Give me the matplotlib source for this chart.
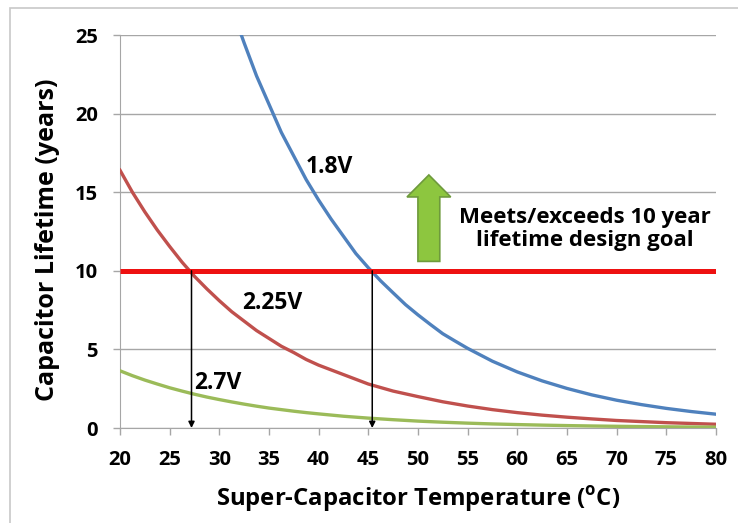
import matplotlib.pyplot as plt
from matplotlib.patches import FancyArrow, Rectangle

plt.rcParams['font.family'] = ['Open Sans', 'DejaVu Sans']
plt.rcParams['font.weight'] = 'bold'
plt.rcParams['axes.labelweight'] = 'bold'

# temperatures (deg C) and lifetime readings (years) for each voltage
temp_18 = [30, 31.25, 32.5, 33.75, 35, 36.25, 37.5, 38.75, 40, 41.25, 42.5,
           43.75, 45, 46.25, 47.5, 48.75, 50, 51.25, 52.5, 53.75, 55, 57.5, 60,
           62.5, 65, 67.5, 70, 72.5, 75, 77.5, 80]
life_18 = [29.2, 26.7, 24.5, 22.4, 20.6, 18.8, 17.3, 15.8, 14.5, 13.3, 12.2,
           11.1, 10.2, 9.36, 8.6, 7.85, 7.2, 6.59, 6.0, 5.53, 5.07, 4.25, 3.57,
           3.0, 2.52, 2.11, 1.77, 1.49, 1.25, 1.05, 0.88]

temp_low = [20, 21.25, 22.5, 23.75, 25, 26.25, 27.5, 28.75, 30, 31.25, 32.5,
            33.75, 35, 36.25, 37.5, 38.75, 40, 42.5, 45, 47.5, 50, 52.5, 55,
            57.5, 60, 62.5, 65, 67.5, 70, 72.5, 75, 77.5, 80]
life_225 = [16.4, 15.0, 13.75, 12.6, 11.55, 10.55, 9.65, 8.85, 8.1, 7.4, 6.8,
            6.2, 5.7, 5.2, 4.8, 4.36, 4.0, 3.4, 2.8, 2.35, 2.0, 1.67, 1.4, 1.17,
            0.98, 0.82, 0.69, 0.58, 0.48, 0.41, 0.34, 0.29, 0.24]
life_27 = [3.64, 3.33, 3.05, 2.8, 2.56, 2.35, 2.15, 1.97, 1.81, 1.66, 1.52,
           1.39, 1.27, 1.17, 1.07, 0.98, 0.90, 0.75, 0.63, 0.53, 0.44, 0.37,
           0.31, 0.26, 0.22, 0.185, 0.155, 0.13, 0.11, 0.092, 0.077, 0.065,
           0.055]

goal_years = 10
crossings = [27.2, 45.4]   # where 2.25V and 1.8V hit the goal

fig = plt.figure(figsize=(7.38, 5.23), dpi=100)
ax = fig.add_axes([0.1626, 0.1816, 0.8074, 0.7514])

# light frame around the chart (top and left visible)
fig.patches.append(Rectangle((10 / 738, -0.1), 1.2, 1.1 - 8 / 523,
                             transform=fig.transFigure, fill=False,
                             edgecolor='#c8c8c8', linewidth=1.2))

ax.plot(temp_18, life_18, color='#4f81bd', linewidth=2.4, zorder=3)
ax.plot(temp_low, life_225, color='#c0504d', linewidth=2.4, zorder=3)
ax.plot(temp_low, life_27, color='#9bbb59', linewidth=2.4, zorder=3)

ax.plot([20, 80], [goal_years, goal_years], color='#ee1111', linewidth=3.6,
        solid_capstyle='butt', zorder=4)

for xc in crossings:
    ax.annotate('', xy=(xc, 0), xytext=(xc, goal_years),
                arrowprops=dict(arrowstyle='-|>', color='black', lw=1.1,
                                mutation_scale=9, shrinkA=0, shrinkB=0),
                zorder=5)

ax.add_patch(FancyArrow(51.1, 10.6, 0, 5.5, width=2.2, head_width=4.4,
                        head_length=1.4, length_includes_head=True,
                        facecolor='#8dc63f', edgecolor='#6e9a3c',
                        linewidth=1.2, zorder=5))

ax.text(41.1, 16.6, '1.8V', fontsize=16.5, ha='center', va='center')
ax.text(35.3, 7.95, '2.25V', fontsize=16.5, ha='center', va='center')
ax.text(29.9, 2.86, '2.7V', fontsize=16.5, ha='center', va='center')
ax.text(66.8, 12.66, 'Meets/exceeds 10 year\nlifetime design goal',
        fontsize=16, ha='center', va='center', linespacing=1.15)

ax.set_xlim(20, 80)
ax.set_ylim(0, 25)
ax.set_xticks(range(20, 81, 5))
ax.set_yticks(range(0, 26, 5))
ax.yaxis.grid(True, color='#a6a6a6', linewidth=1)
ax.set_axisbelow(True)
for side in ['top', 'right']:
    ax.spines[side].set_visible(False)
for side in ['left', 'bottom']:
    ax.spines[side].set_color('#a6a6a6')
ax.tick_params(axis='both', colors='#a6a6a6', labelcolor='black',
               labelsize=14.5, length=5, width=1, pad=11)

ax.set_xlabel(r'Super-Capacitor Temperature ($^\mathregular{o}$C)',
              fontsize=17.2)
ax.set_ylabel('Capacitor Lifetime (years)', fontsize=18)
ax.xaxis.set_label_coords(0.5, -0.142)
ax.yaxis.set_label_coords(-0.1, 0.48)

plt.savefig('out.png', dpi=100)
